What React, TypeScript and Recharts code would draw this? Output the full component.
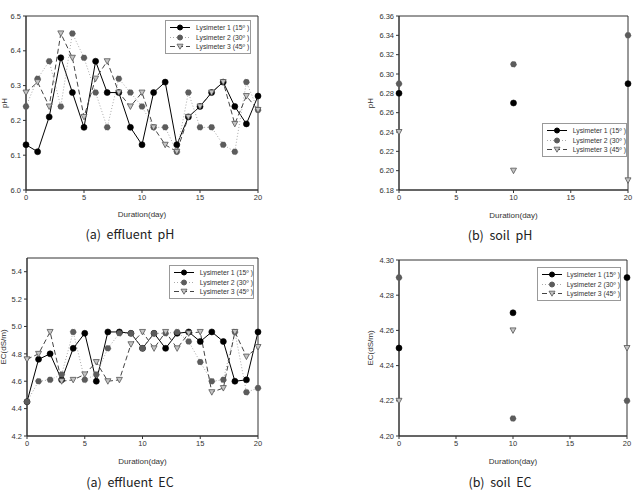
import { LineChart, Line, XAxis, YAxis, Legend, ReferenceArea } from 'recharts'

// ---- data ----
const days = [0, 1, 2, 3, 4, 5, 6, 7, 8, 9, 10, 11, 12, 13, 14, 15, 16, 17, 18, 19, 20]
const soilDays = [0, 10, 20]
const xTicks = [0, 5, 10, 15, 20]

const effPh1 = [6.13, 6.11, 6.21, 6.38, 6.28, 6.18, 6.37, 6.28, 6.28, 6.18, 6.13, 6.28, 6.31, 6.13, 6.21, 6.24, 6.28, 6.31, 6.24, 6.19, 6.27]
const effPh2 = [6.24, 6.32, 6.37, 6.24, 6.45, 6.38, 6.28, 6.18, 6.32, 6.28, 6.24, 6.18, 6.18, 6.11, 6.28, 6.18, 6.18, 6.13, 6.11, 6.31, 6.23]
const effPh3 = [6.28, 6.31, 6.24, 6.45, 6.38, 6.21, 6.32, 6.37, 6.28, 6.24, 6.28, 6.18, 6.13, 6.11, 6.21, 6.24, 6.28, 6.31, 6.19, 6.27, 6.23]

const effEc1 = [4.45, 4.76, 4.8, 4.61, 4.84, 4.95, 4.6, 4.96, 4.96, 4.95, 4.84, 4.95, 4.84, 4.95, 4.96, 4.89, 4.96, 4.89, 4.6, 4.61, 4.96]
const effEc2 = [4.45, 4.6, 4.61, 4.65, 4.96, 4.61, 4.65, 4.84, 4.95, 4.95, 4.84, 4.95, 4.95, 4.96, 4.89, 4.74, 4.6, 4.61, 4.96, 4.52, 4.55]
const effEc3 = [4.76, 4.8, 4.96, 4.6, 4.61, 4.65, 4.74, 4.6, 4.61, 4.87, 4.96, 4.84, 4.96, 4.84, 4.95, 4.96, 4.52, 4.55, 4.96, 4.78, 4.85]

const soilPh1 = [6.28, 6.27, 6.29]
const soilPh2 = [6.29, 6.31, 6.34]
const soilPh3 = [6.24, 6.2, 6.19]

const soilEc1 = [4.25, 4.27, 4.29]
const soilEc2 = [4.29, 4.21, 4.22]
const soilEc3 = [4.22, 4.26, 4.25]

const seriesNames = ['Lysimeter 1 (15º )', 'Lysimeter 2 (30º )', 'Lysimeter 3 (45º )']

const effPhTicks = [6.0, 6.1, 6.2, 6.3, 6.4, 6.5]
const soilPhTicks = [6.18, 6.2, 6.22, 6.24, 6.26, 6.28, 6.3, 6.32, 6.34, 6.36]
const effEcTicks = [4.2, 4.4, 4.6, 4.8, 5.0, 5.2, 5.4]
const soilEcTicks = [4.2, 4.22, 4.24, 4.26, 4.28, 4.3]

const rows = (x: number[], a: number[], b: number[], c: number[]) =>
  x.map((day, i) => ({ day, l1: a[i], l2: b[i], l3: c[i] }))

const FONT = '"Liberation Sans", Arial, sans-serif'
const AXIS = '#333'

const styles = [
  { key: 'l1', line: '#000', dash: undefined, dotFill: '#000', dotStroke: '#000', tri: false },
  { key: 'l2', line: '#aaa', dash: '1 2', dotFill: '#5c5c5c', dotStroke: '#5c5c5c', tri: false },
  { key: 'l3', line: '#444', dash: '5 3', dotFill: '#c4c4c4', dotStroke: '#555', tri: true },
]

function TriDot({ cx, cy }: any) {
  if (cx == null || cy == null) return null
  return (
    <path
      d={`M${cx - 3},${cy - 2.5} L${cx + 3},${cy - 2.5} L${cx},${cy + 3} Z`}
      fill="#c4c4c4"
      stroke="#555"
      strokeWidth={0.8}
    />
  )
}

function LegendIcon({ s }: { s: (typeof styles)[number] }) {
  return (
    <svg width={24} height={9} style={{ display: 'block' }}>
      <line x1={2} x2={22} y1={4.5} y2={4.5} stroke={s.line} strokeWidth={1} strokeDasharray={s.dash} />
      {s.tri ? (
        <path d="M9,2.2 L15,2.2 L12,7.2 Z" fill={s.dotFill} stroke={s.dotStroke} strokeWidth={0.8} />
      ) : (
        <circle cx={12} cy={4.5} r={2.5} fill={s.dotFill} stroke={s.dotStroke} />
      )}
    </svg>
  )
}

function LegendBox() {
  return (
    <div
      style={{
        border: '1px solid #999',
        background: '#fff',
        padding: '2px 0 2px 2px',
        fontFamily: FONT,
        fontSize: 6.8,
        color: '#333',
        boxSizing: 'border-box',
      }}
    >
      {styles.map((s, i) => (
        <div key={s.key} style={{ display: 'flex', alignItems: 'center', height: 9.4 }}>
          <LegendIcon s={s} />
          <span style={{ marginLeft: 4, whiteSpace: 'nowrap' }}>{seriesNames[i]}</span>
        </div>
      ))}
    </div>
  )
}

function XTitle({ viewBox, dy }: any) {
  const cx = viewBox ? viewBox.x + viewBox.width / 2 : 0
  const y = viewBox ? viewBox.y + dy : 0
  return (
    <text x={cx} y={y} textAnchor="middle" dominantBaseline="central" fontSize={8} fill="#333" fontFamily={FONT}>
      Duration(day)
    </text>
  )
}

function YTitle({ viewBox, posX, text }: any) {
  const cy = viewBox ? viewBox.y + viewBox.height / 2 : 0
  return (
    <text
      x={posX}
      y={cy}
      transform={`rotate(-90 ${posX} ${cy})`}
      textAnchor="middle"
      dominantBaseline="central"
      fontSize={8}
      fill="#333"
      fontFamily={FONT}
    >
      {text}
    </text>
  )
}

interface PanelProps {
  left: number
  top: number
  width: number
  height: number
  margin: { top: number; right: number; bottom: number; left: number }
  yWidth: number
  data: { day: number; l1: number; l2: number; l3: number }[]
  yDomain: [number, number]
  yTicks: number[]
  decimals: number
  yTitle: string
  yTitleX: number
  xTitleDy: number
  legendPos: { left: number; top: number; width: number }
  connect: boolean
}

function Panel(p: PanelProps) {
  return (
    <div style={{ position: 'absolute', left: p.left, top: p.top, fontFamily: FONT }}>
      <LineChart width={p.width} height={p.height} data={p.data} margin={p.margin}>
        <XAxis
          dataKey="day"
          type="number"
          domain={[0, 20]}
          ticks={xTicks}
          interval={0}
          height={30}
          tickSize={3}
          tickLine={{ stroke: AXIS }}
          axisLine={{ stroke: AXIS }}
          tick={{ fontSize: 7.5, fill: '#333' }}
          label={<XTitle dy={p.xTitleDy} />}
        />
        <YAxis
          type="number"
          domain={p.yDomain}
          ticks={p.yTicks}
          interval={0}
          width={p.yWidth}
          tickSize={3}
          tickLine={{ stroke: AXIS }}
          axisLine={{ stroke: AXIS }}
          tick={{ fontSize: 7.5, fill: '#333' }}
          tickFormatter={(v: number) => v.toFixed(p.decimals)}
          label={<YTitle posX={p.yTitleX} text={p.yTitle} />}
        />
        <ReferenceArea
          x1={0}
          x2={20}
          y1={p.yDomain[0]}
          y2={p.yDomain[1]}
          fill="none"
          stroke={AXIS}
          strokeWidth={1}
          ifOverflow="visible"
        />
        <Legend
          layout="horizontal"
          verticalAlign="middle"
          align="center"
          content={() => <LegendBox />}
          wrapperStyle={{ left: p.legendPos.left, top: p.legendPos.top, width: p.legendPos.width }}
        />
        {styles.map((s) => (
          <Line
            key={s.key}
            dataKey={s.key}
            type="linear"
            stroke={p.connect ? s.line : 'none'}
            strokeWidth={1}
            strokeDasharray={s.dash}
            isAnimationActive={false}
            dot={
              s.tri
                ? (d: any) => <TriDot key={`t-${d.index}`} cx={d.cx} cy={d.cy} />
                : { r: 3, fill: s.dotFill, stroke: s.dotStroke, strokeWidth: 0.6 }
            }
            activeDot={false}
          />
        ))}
      </LineChart>
    </div>
  )
}

function Caption({ x, y, text }: { x: number; y: number; text: string }) {
  return (
    <div
      style={{
        position: 'absolute',
        left: x - 80,
        top: y - 9,
        width: 160,
        height: 18,
        lineHeight: '18px',
        textAlign: 'center',
        fontFamily: '"Noto Sans CJK KR", "Noto Sans", sans-serif',
        fontSize: 12.5,
        color: '#222',
        whiteSpace: 'pre',
      }}
    >
      {text}
    </div>
  )
}

export default function App() {
  return (
    <div style={{ position: 'absolute', left: 0, top: 0, width: 638, height: 500, background: '#fff' }}>
      <Panel
        left={0}
        top={0}
        width={320}
        height={240}
        margin={{ top: 16, right: 62, bottom: 20, left: 0 }}
        yWidth={26}
        data={rows(days, effPh1, effPh2, effPh3)}
        yDomain={[6.0, 6.5]}
        yTicks={effPhTicks}
        decimals={1}
        yTitle="pH"
        yTitleX={4}
        xTitleDy={24}
        legendPos={{ left: 165, top: 20, width: 86 }}
        connect
      />
      <Panel
        left={320}
        top={0}
        width={318}
        height={240}
        margin={{ top: 16, right: 10, bottom: 20, left: 43 }}
        yWidth={36}
        data={rows(soilDays, soilPh1, soilPh2, soilPh3)}
        yDomain={[6.18, 6.36]}
        yTicks={soilPhTicks}
        decimals={2}
        yTitle="pH"
        yTitleX={50}
        xTitleDy={25}
        legendPos={{ left: 222, top: 123, width: 85 }}
        connect={false}
      />
      <Panel
        left={0}
        top={250}
        width={320}
        height={250}
        margin={{ top: 8, right: 62, bottom: 34, left: 1 }}
        yWidth={26}
        data={rows(days, effEc1, effEc2, effEc3)}
        yDomain={[4.2, 5.5]}
        yTicks={effEcTicks}
        decimals={1}
        yTitle="EC(dS/m)"
        yTitleX={3}
        xTitleDy={25}
        legendPos={{ left: 169, top: 15, width: 85 }}
        connect
      />
      <Panel
        left={320}
        top={250}
        width={318}
        height={250}
        margin={{ top: 10, right: 11, bottom: 34, left: 43 }}
        yWidth={36}
        data={rows(soilDays, soilEc1, soilEc2, soilEc3)}
        yDomain={[4.2, 4.3]}
        yTicks={soilEcTicks}
        decimals={2}
        yTitle="EC(dS/m)"
        yTitleX={50}
        xTitleDy={25}
        legendPos={{ left: 217, top: 17, width: 84 }}
        connect={false}
      />
      <Caption x={130} y={234} text="(a)  effluent  pH" />
      <Caption x={500} y={235} text="(b)  soil  pH" />
      <Caption x={130} y={482} text="(a)  effluent  EC" />
      <Caption x={500} y={482} text="(b)  soil  EC" />
    </div>
  )
}
